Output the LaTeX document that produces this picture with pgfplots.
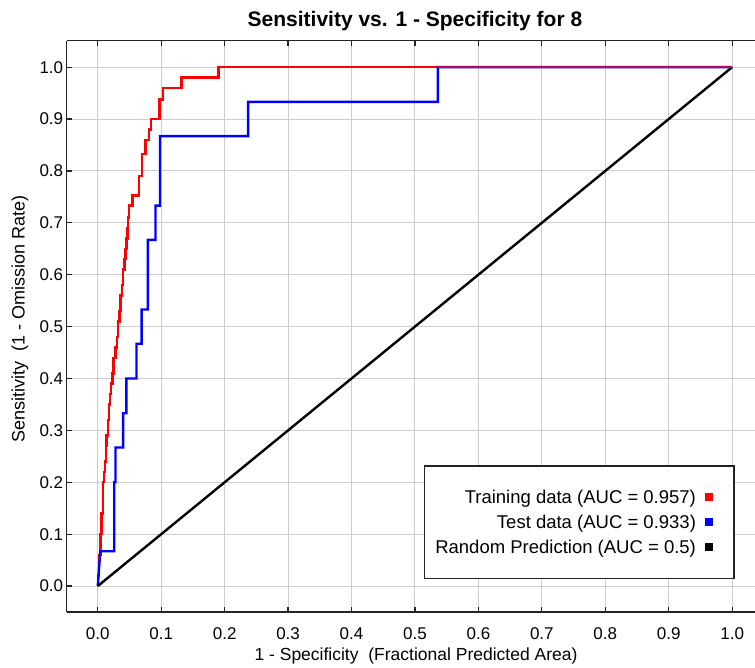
\documentclass[border=0pt]{standalone}
\usepackage{fontspec}
\setmainfont{Liberation Sans}
\usepackage{pgfplots}
\pgfplotsset{compat=1.18}
\definecolor{gridgray}{RGB}{205,205,205}
\definecolor{framegray}{RGB}{35,35,35}
\definecolor{overlap}{RGB}{175,10,90}
\begin{document}
\begin{tikzpicture}
\begin{axis}[
  scale only axis, width=688.3pt, height=571.3pt,
  xmin=-0.049, xmax=1.036, ymin=-0.05, ymax=1.051,
  axis x line*=box, axis y line*=left,
  xtick={0,0.1,0.2,0.3,0.4,0.5,0.6,0.7,0.8,0.9,1.0},
  ytick={0,0.1,0.2,0.3,0.4,0.5,0.6,0.7,0.8,0.9,1.0},
  grid=major, major grid style={gridgray, line width=1pt},
  tick align=inside, major tick length=5pt,
  tick style={framegray, line width=1.2pt},
  axis line style={framegray, line width=1.5pt},
  ticklabel style={font=\fontsize{17}{20}\selectfont},
  xticklabel style={yshift=-12pt},
  /pgf/number format/fixed, /pgf/number format/fixed zerofill,
  /pgf/number format/precision=1, /pgf/number format/assume math mode=true,
  title={Sensitivity vs. 1 - Specificity for 8},
  title style={font=\bfseries\fontsize{21}{24}\selectfont, at={(axis description cs:0.506,1.024)}, anchor=center},
  xlabel={1 - Specificity\ \ (Fractional Predicted Area)},
  xlabel style={font=\fontsize{17.5}{21}\selectfont, at={(axis description cs:0.5075,-0.077)}, anchor=center},
  ylabel={Sensitivity\ \ (1 - Omission Rate)},
  ylabel style={font=\fontsize{18}{21}\selectfont, at={(axis description cs:-0.0679,0.513)}, anchor=center},
  legend cell align=right, legend plot pos=right,
  legend style={at={(axis cs:1.004,0.233)}, anchor=north east, draw=framegray, line width=1.5pt,
    font=\fontsize{18.5}{22}\selectfont, inner xsep=9pt, inner ysep=22pt, row sep=6pt,
    /tikz/every odd column/.append style={column sep=7pt}},
  legend image code/.code={\fill[draw=none] (0pt,-4pt) rectangle (8pt,4pt); \path[draw=none,fill=none] (0pt,0pt) rectangle (20pt,0pt);},
]
\addplot[color=red, line width=2.4pt] coordinates {
(0,0)(0,0.02)(0.002,0.02)(0.002,0.06)(0.004,0.06)(0.004,0.1)(0.006,0.1)(0.006,0.14)
(0.008,0.14)(0.008,0.2)(0.010,0.2)(0.010,0.22)(0.011,0.22)(0.011,0.24)(0.013,0.24)(0.013,0.27)(0.014,0.27)(0.014,0.29)(0.016,0.29)
(0.016,0.32)(0.018,0.32)(0.018,0.35)(0.019,0.35)(0.019,0.37)(0.021,0.37)(0.021,0.39)(0.023,0.39)(0.023,0.41)(0.025,0.41)(0.025,0.44)
(0.028,0.44)(0.028,0.46)(0.030,0.46)(0.030,0.48)(0.032,0.48)(0.032,0.51)(0.034,0.51)(0.034,0.53)(0.036,0.53)
(0.036,0.56)(0.038,0.56)(0.038,0.58)(0.040,0.58)(0.040,0.61)(0.042,0.61)(0.042,0.63)(0.044,0.63)(0.044,0.65)(0.045,0.65)(0.045,0.67)
(0.047,0.67)(0.047,0.69)(0.048,0.69)(0.048,0.71)(0.049,0.71)(0.049,0.733)(0.055,0.733)(0.055,0.753)(0.065,0.753)
(0.065,0.79)(0.070,0.79)(0.070,0.833)(0.075,0.833)(0.075,0.86)(0.081,0.86)(0.081,0.88)(0.084,0.88)(0.084,0.9)
(0.097,0.9)(0.097,0.938)(0.103,0.938)(0.103,0.96)(0.132,0.96)(0.132,0.98)(0.190,0.98)
(0.190,1)(1,1)};
\addlegendentry{Training data (AUC = 0.957)}
\addplot[color=blue, line width=2.4pt] coordinates {
(0,0)(0.004,0.067)(0.026,0.067)(0.026,0.2)(0.028,0.2)(0.028,0.267)(0.040,0.267)
(0.040,0.333)(0.045,0.333)(0.045,0.4)(0.061,0.4)(0.061,0.467)(0.069,0.467)(0.069,0.533)
(0.079,0.533)(0.079,0.667)(0.091,0.667)(0.091,0.733)(0.098,0.733)(0.098,0.867)
(0.237,0.867)(0.237,0.933)(0.536,0.933)(0.536,1)(1,1)};
\addlegendentry{Test data (AUC = 0.933)}
\addplot[color=black, line width=2.4pt] coordinates {(0,0)(1,1)};
\addlegendentry{Random Prediction (AUC = 0.5)}
\addplot[forget plot, color=overlap, line width=2.4pt] coordinates {(0.536,1)(1,1)};
\end{axis}
\pgfresetboundingbox
\path ([shift={(-66.7pt,-56pt)}]current axis.south west) rectangle ([shift={(0pt,40.7pt)}]current axis.north east);
\end{tikzpicture}
\end{document}
